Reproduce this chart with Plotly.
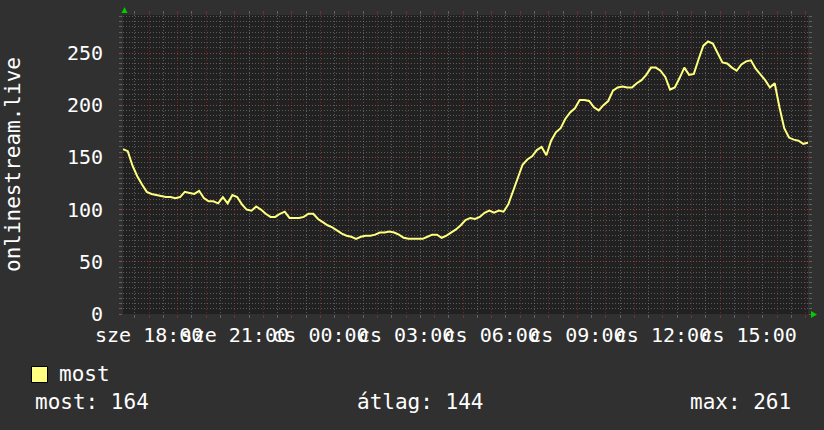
import plotly.graph_objects as go
import pandas as pd

# ---------------- data ----------------
start_time = "2024-01-03 17:05"   # szerda (Wednesday)
step_minutes = 10
values = [
    158, 156, 142, 132, 124, 117, 115, 114, 113, 112,
    112, 111, 112, 117, 116, 115, 118, 111, 108, 108,
    106, 112, 106, 114, 112, 105, 100, 99, 103, 100,
    96, 93, 93, 96, 98, 92, 92, 92, 93, 96,
    96, 91, 88, 85, 83, 80, 77, 75, 74, 72,
    74, 75, 75, 76, 78, 78, 79, 78, 76, 73,
    72, 72, 72, 72, 74, 76, 76, 73, 75, 78,
    81, 85, 90, 92, 91, 93, 97, 99, 97, 99,
    98, 105, 118, 132, 143, 148, 151, 157, 160, 152,
    166, 174, 178, 187, 193, 197, 205, 205, 204, 198,
    195, 200, 204, 214, 217, 218, 217, 217, 221, 224,
    229, 236, 236, 233, 227, 215, 217, 226, 236, 229,
    230, 244, 257, 261, 259, 250, 241, 240, 236, 233,
    239, 242, 243, 235, 230, 224, 217, 221, 198, 178,
    169, 167, 166, 163, 164,
]
tick_labels = ["sze 18:00", "sze 21:00", "cs 00:00", "cs 03:00",
               "cs 06:00", "cs 09:00", "cs 12:00", "cs 15:00"]
series_name = "most"
stat_names = ["most", "átlag", "max"]
stat_values = [164, 144, 261]
y_title = "onlinestream.live"
y_ticks = [0, 50, 100, 150, 200, 250]

# ---------------- layout constants ----------------
W, H = 824, 430
L, R, T, B = 123, 16, 15, 116
PW, PH = W - L - R, H - T - B
FONT = "DejaVu Sans Mono"
TXT = "#ffffff"
LINE_COL = "#ffff80"
MINOR_GRID = "rgba(140,140,140,0.55)"
MAJOR_GRID = "rgba(190,50,50,0.5)"


def px(x):
    return (x - L) / PW


def py(y):
    return (H - B - y) / PH


times = pd.date_range(start_time, periods=len(values), freq=f"{step_minutes}min")

hours = pd.date_range(times[0].ceil("h"), times[-1].floor("h"), freq="1h")
label_hours = [h for h in hours if h.hour % 3 == 0]
label_map = dict(zip(label_hours, tick_labels))
major_text = [label_map.get(h, "") for h in hours]
half_hours = [h + pd.Timedelta(minutes=30) for h in
              pd.date_range(times[0].floor("h"), times[-1].floor("h"), freq="1h")]
half_hours = [h for h in half_hours if times[0] <= h <= times[-1]]

fig = go.Figure()
fig.add_trace(go.Scatter(
    x=times, y=values, mode="lines", name=series_name,
    line=dict(color=LINE_COL, width=2), showlegend=False,
))

fig.update_layout(
    width=W, height=H,
    margin=dict(l=L, r=R, t=T, b=B, pad=0),
    paper_bgcolor="#303030",
    plot_bgcolor="#212121",
    font=dict(family=FONT, color=TXT, size=20),
    showlegend=False,
)

fig.update_xaxes(
    range=[times[0], times[-1]],
    tickmode="array", tickvals=list(hours), ticktext=major_text,
    tickangle=0,
    showgrid=True, gridcolor=MAJOR_GRID, griddash="1px,2px", gridwidth=1,
    ticks="outside", ticklen=3, tickcolor=MAJOR_GRID, mirror="ticks",
    showline=False, zeroline=False,
    tickfont=dict(family=FONT, size=20, color=TXT),
    minor=dict(tickmode="array", tickvals=half_hours, showgrid=True,
               gridcolor=MINOR_GRID, griddash="1px,2px", gridwidth=1,
               ticks="outside", ticklen=3, tickcolor=MINOR_GRID),
)

fig.update_yaxes(
    range=[0, PH / 1.044],
    tickmode="array", tickvals=y_ticks, ticktext=[str(v) for v in y_ticks],
    showgrid=True, gridcolor=MAJOR_GRID, griddash="1px,2px", gridwidth=1,
    ticks="outside", ticklen=3, tickcolor=MAJOR_GRID, mirror="ticks",
    ticklabelstandoff=12,
    showline=False, zeroline=False,
    tickfont=dict(family=FONT, size=20, color=TXT),
    minor=dict(dtick=5, showgrid=True, gridcolor=MINOR_GRID,
               griddash="1px,2px", gridwidth=1,
               ticks="outside", ticklen=3, tickcolor=MINOR_GRID),
)

# y-axis title
fig.add_annotation(
    text=y_title, textangle=-90, xref="paper", yref="paper",
    x=px(13), y=py(165), xanchor="center", yanchor="middle",
    showarrow=False, font=dict(family=FONT, size=21, color=TXT),
)

# green arrows at axis ends
fig.add_shape(type="path", xref="paper", yref="paper",
              path=f"M {px(121.5)} {py(13)} L {px(127.5)} {py(13)} L {px(124.5)} {py(7)} Z",
              fillcolor="#00cc00", line=dict(width=0))
fig.add_shape(type="path", xref="paper", yref="paper",
              path=f"M {px(811)} {py(311)} L {px(811)} {py(318)} L {px(817)} {py(314.5)} Z",
              fillcolor="#00cc00", line=dict(width=0))

# legend box + label
fig.add_shape(type="rect", xref="paper", yref="paper",
              x0=px(31.5), x1=px(47.5), y0=py(366.5), y1=py(382.5),
              fillcolor=LINE_COL, line=dict(color="#000000", width=1))
fig.add_annotation(text=series_name, xref="paper", yref="paper",
                   x=px(57), y=py(374), xanchor="left", yanchor="middle",
                   showarrow=False, font=dict(family=FONT, size=21, color=TXT))

# statistics line
stat_x = [33, 355, 688]
for name, val, sx in zip(stat_names, stat_values, stat_x):
    fig.add_annotation(text=f"{name}: {val}", xref="paper", yref="paper",
                       x=px(sx), y=py(402), xanchor="left", yanchor="middle",
                       showarrow=False, font=dict(family=FONT, size=21, color=TXT))

fig.write_html(
    "out.html",
    config={"displayModeBar": False},
    post_script="document.body.style.margin='0';document.body.style.background='#303030';",
)
